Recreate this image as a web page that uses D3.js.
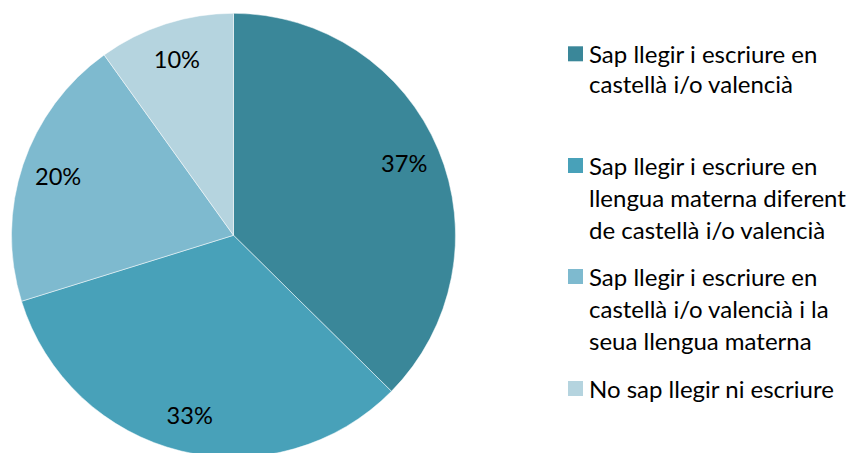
<!DOCTYPE html>
<html><head><meta charset="utf-8">
<script src="https://cdn.jsdelivr.net/npm/d3@7"></script>
<style>body{margin:0;background:#fff;}svg{display:block;}</style>
</head><body>
<svg id="c" width="863" height="453"></svg>
<script>
const categories = [
  ["Sap llegir i escriure en", "castellà i/o valencià"],
  ["Sap llegir i escriure en", "llengua materna diferent", "de castellà i/o valencià"],
  ["Sap llegir i escriure en", "castellà i/o valencià i la", "seua llengua materna"],
  ["No sap llegir ni escriure"]
];
const values = [37.4, 32.8, 19.9, 9.9];
const labels = ["37%", "33%", "20%", "10%"];
const colors = ["#3A8799", "#48A1B9", "#7EBACF", "#B5D4DF"];

const svg = d3.select("#c");
const font = "Lato, 'Open Sans', sans-serif";
const cx = 233.5, cy = 235.3, R = 222;
const pie = d3.pie().sort(null).value(d => d)(values);
const arc = d3.arc().innerRadius(0).outerRadius(R);
const labelArc = d3.arc().innerRadius(185).outerRadius(185);
const g = svg.append("g").attr("transform", `translate(${cx},${cy})`);
g.selectAll("path").data(pie).join("path")
  .attr("d", arc).attr("fill", (d, i) => colors[i])
  .attr("stroke", "#fff").attr("stroke-width", 0.5);
g.selectAll("text").data(pie).join("text")
  .attr("transform", d => `translate(${labelArc.centroid(d)})`)
  .attr("text-anchor", "middle").attr("dy", "0.36em")
  .attr("font-family", font).attr("font-size", 23.6).attr("fill", "#000")
  .text((d, i) => labels[i]);

// legend
const firstBaselines = [63.3, 175, 286, 398];
const lh = 32;
const lg = svg.append("g");
categories.forEach((lines, i) => {
  const b = firstBaselines[i];
  lg.append("rect").attr("x", 568).attr("y", b - 17).attr("width", 15).attr("height", 15).attr("fill", colors[i]);
  const t = lg.append("text").attr("font-family", font).attr("font-size", 24).attr("fill", "#000");
  lines.forEach((ln, j) => {
    t.append("tspan").attr("x", 589).attr("y", b + j * (i === 0 ? 30 : lh)).text(ln);
  });
});
</script>
</body></html>
